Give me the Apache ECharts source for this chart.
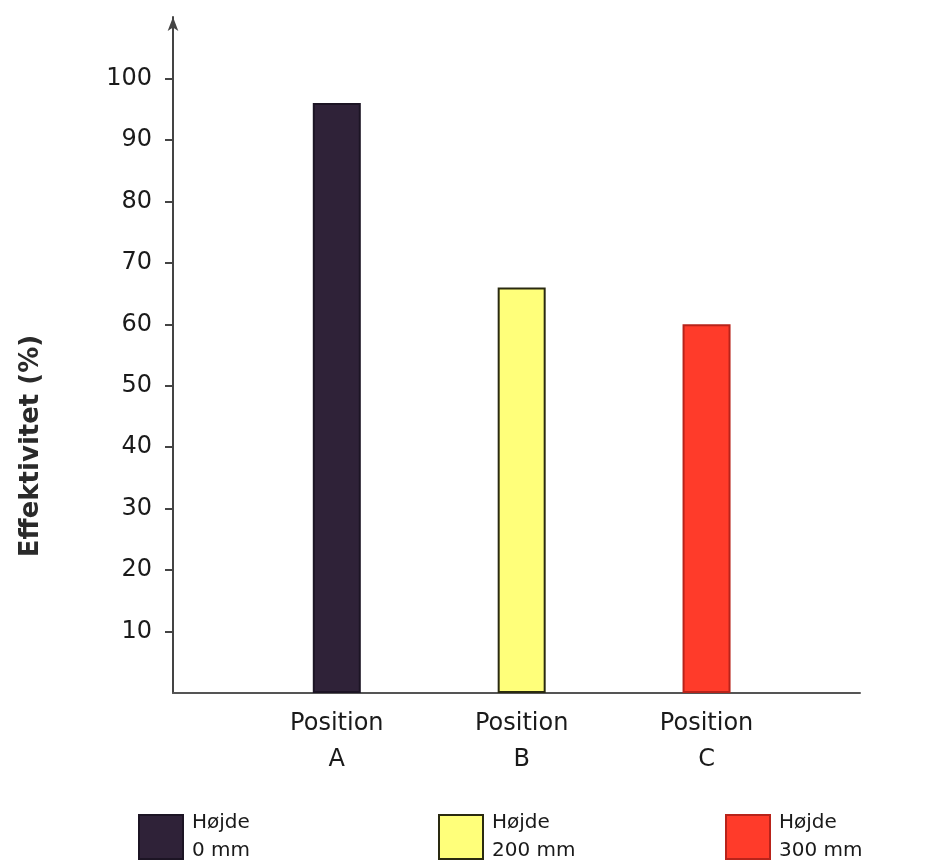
<!DOCTYPE html>
<html><head><meta charset="utf-8">
<script src="https://cdn.jsdelivr.net/npm/echarts@6/dist/echarts.min.js"></script>
<style>html,body{margin:0;padding:0;background:#fff}#c{width:938px;height:868px}</style>
</head><body><div id="c"></div>
<script>
const categories = ['Position\nA', 'Position\nB', 'Position\nC'];
const positions = [1, 2, 3];
const values = [96, 66, 60];
const seriesNames = ['Højde\n0 mm', 'Højde\n200 mm', 'Højde\n300 mm'];
const yTicks = [10, 20, 30, 40, 50, 60, 70, 80, 90, 100];
const colors = ['#2f2238', '#ffff7a', '#ff3b2a'];
const borders = ['#1c1424', '#2a2a10', '#b8231a'];

const font = 'DejaVu Sans';
const chart = echarts.init(document.getElementById('c'));
const series = positions.map((p, i) => ({
  name: seriesNames[i],
  type: 'bar',
  stack: 'all',
  barWidth: 48,
  data: [[p, values[i]]],
  itemStyle: { color: colors[i], borderColor: borders[i], borderWidth: 2 }
}));
const legendLefts = [133, 433, 720];
chart.setOption({
  animation: false,
  backgroundColor: '#fff',
  grid: { left: 173, right: 78, top: 17, bottom: 175 },
  xAxis: {
    type: 'value', min: 0.114, max: 3.83,
    splitLine: { show: false },
    axisLine: { show: true, lineStyle: { color: '#555', width: 2 } },
    axisTick: { show: false },
    axisLabel: {
      customValues: positions,
      formatter: v => categories[positions.indexOf(Math.round(v))] || '',
      color: '#1a1a1a', fontFamily: font, fontSize: 24, lineHeight: 36, margin: 13
    }
  },
  yAxis: {
    type: 'value', min: 0, max: 110,
    splitLine: { show: false },
    axisLine: { show: true, symbol: ['none', 'arrow'], symbolSize: [8, 14], lineStyle: { color: '#444', width: 2 } },
    axisTick: { show: true, customValues: yTicks, length: 8, inside: false, lineStyle: { color: '#444', width: 2 } },
    axisLabel: { customValues: yTicks, color: '#1a1a1a', fontFamily: font, fontSize: 24, margin: 21 }
  },
  graphic: [{
    type: 'text', x: 31, y: 446, rotation: Math.PI / 2,
    style: { text: 'Effektivitet (%)', fontFamily: font, fontSize: 26, fontWeight: 'bold', fill: '#2a2a2a', align: 'center', verticalAlign: 'middle' }
  }],
  legend: seriesNames.map((n, i) => ({
    data: [n], left: legendLefts[i], top: 804,
    itemWidth: 44, itemHeight: 44, itemGap: 10,
    icon: 'rect',
    textStyle: { fontFamily: font, fontSize: 20, lineHeight: 28, color: '#1a1a1a', padding: [0, 0, 0, 4] }
  })),
  series
});
</script></body></html>
